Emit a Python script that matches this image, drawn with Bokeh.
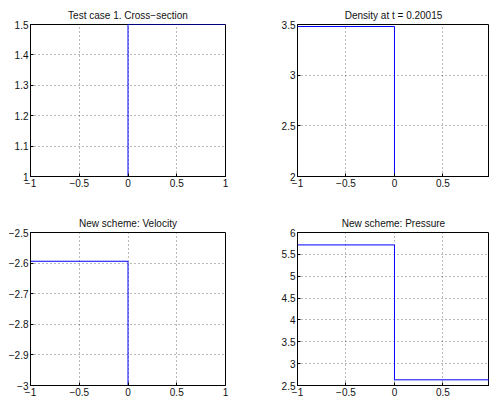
from bokeh.plotting import figure
from bokeh.models import FixedTicker, Range1d
from bokeh.layouts import column, row
from bokeh.embed import file_html
from bokeh.resources import INLINE

# ---- data ----
x_steps = [-1.0, 0.0, 1.0]
x_ticks = [-1, -0.5, 0, 0.5, 1]

titles = ["Test case 1. Cross\u2212section", "Density at t = 0.20015",
          "New scheme: Velocity", "New scheme: Pressure"]

cross_vals = [1.0, 1.5, 1.5]
dens_vals = [3.48, 2.0, 2.0]
vel_vals = [-2.594, -3.0, -3.0]
pres_vals = [5.716, 2.63, 2.63]

cross_ticks = [1, 1.1, 1.2, 1.3, 1.4, 1.5]
dens_ticks = [2, 2.5, 3, 3.5]
vel_ticks = [-3, -2.9, -2.8, -2.7, -2.6, -2.5]
pres_ticks = [2.5, 3, 3.5, 4, 4.5, 5, 5.5, 6]

FONT = "Liberation Sans"


def fmt(v):
    s = ("%.2f" % abs(v)).rstrip("0").rstrip(".")
    if s == "":
        s = "0"
    return ("\u2212" + s) if v < 0 else s


def style_axis(ax, ticks, standoff):
    ax.ticker = FixedTicker(ticks=ticks)
    ax.major_label_overrides = {float(t): fmt(t) for t in ticks}
    ax.major_tick_in = 3
    ax.major_tick_out = 0
    ax.minor_tick_line_color = None
    ax.axis_line_color = "black"
    ax.axis_line_width = 1
    ax.major_tick_line_color = "black"
    ax.major_label_text_font = FONT
    ax.major_label_text_color = "#111111"
    ax.major_label_standoff = standoff
    ax.major_label_text_font_size = "10px"


def panel(title, yvals, yticks, x_end, w, h, bl, br, bt, bb):
    p = figure(width=w, height=h, output_backend="svg", toolbar_location=None,
               x_range=Range1d(-1, x_end), y_range=Range1d(yticks[0], yticks[-1]),
               min_border_left=bl, min_border_right=br, min_border_top=bt,
               min_border_bottom=bb)
    p.outline_line_color = "black"
    p.outline_line_width = 1
    p.outline_line_alpha = 1
    p.title.text = title
    p.title.align = "center"
    p.title.text_font = FONT
    p.title.text_font_size = "10px"
    p.title.text_font_style = "normal"
    p.title.text_color = "#111111"
    p.title.standoff = 7
    p.title.offset = 0
    style_axis(p.xaxis[0], x_ticks, 2)
    style_axis(p.yaxis[0], yticks, 2)
    for g in (p.xgrid[0], p.ygrid[0]):
        g.grid_line_color = "black"
        g.grid_line_alpha = 0.55
        g.grid_line_dash = "1 3"
        g.grid_line_width = 1
    p.xgrid[0].ticker = FixedTicker(ticks=x_ticks)
    p.ygrid[0].ticker = FixedTicker(ticks=yticks)
    p.step(x_steps, yvals, mode="after", line_color="#0000ff", line_width=1.0)
    return p


p1 = panel(titles[0], cross_vals, cross_ticks, 1.0, 245, 200, 30, 20, 23, 24)
p2 = panel(titles[1], dens_vals, dens_ticks, 0.98, 244, 200, 52, 0, 24, 24)
p3 = panel(titles[2], vel_vals, vel_ticks, 1.0, 245, 203, 30, 20, 32, 18)
p4 = panel(titles[3], pres_vals, pres_ticks, 0.98, 244, 203, 52, 0, 32, 18)

layout = column(row(p1, p2), row(p3, p4))
open("out.html", "w").write(file_html(layout, INLINE))
